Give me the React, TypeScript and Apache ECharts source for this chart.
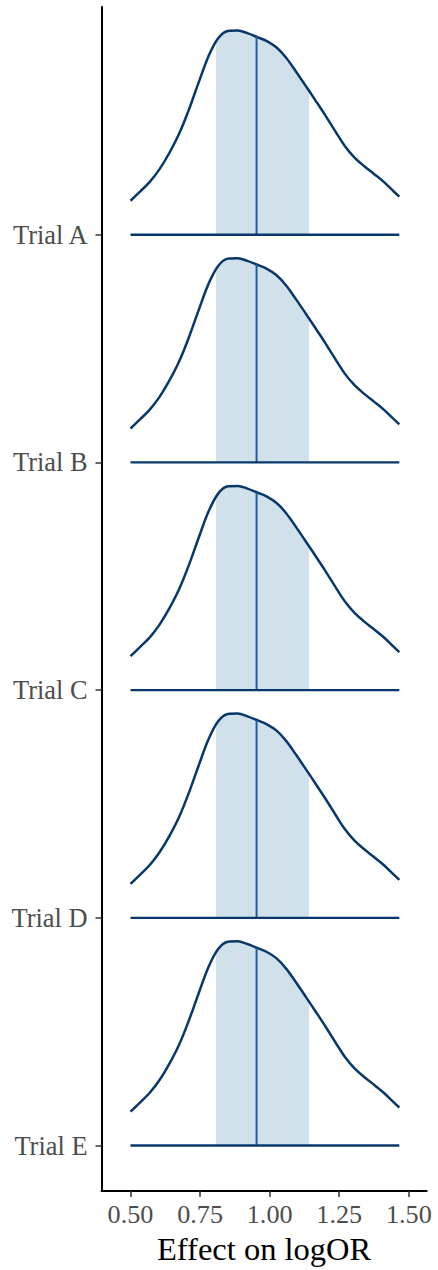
import React, { useEffect, useRef } from "react";
import * as echarts from "echarts";

const trials = ["Trial A", "Trial B", "Trial C", "Trial D", "Trial E"];
const xTicks = [0.5, 0.75, 1.0, 1.25, 1.5];
const densityX = [0.5, 0.535, 0.57, 0.605, 0.64, 0.675, 0.71, 0.745, 0.78, 0.815, 0.85, 0.885, 0.92, 0.955, 0.99, 1.025, 1.06, 1.095, 1.13, 1.165, 1.2, 1.235, 1.27, 1.305, 1.34, 1.375, 1.41, 1.445, 1.466];
const densityY = [0.149, 0.19, 0.233, 0.289, 0.36, 0.444, 0.55, 0.669, 0.783, 0.863, 0.895, 0.897, 0.885, 0.868, 0.85, 0.822, 0.776, 0.716, 0.653, 0.589, 0.524, 0.456, 0.39, 0.339, 0.301, 0.267, 0.232, 0.191, 0.167];
const intervalLow = 0.807;
const intervalHigh = 1.14;
const medianX = 0.953;
const medianHeight = 0.869;

const FONT = "'Liberation Serif', 'Times New Roman', serif";
const DARK = "#08386b";

export default function App() {
  const ref = useRef<HTMLDivElement>(null);
  useEffect(() => {
    if (!ref.current) return;
    const chart = echarts.init(ref.current, null, { renderer: "svg" });
    const n = trials.length;
    const yAxes: any[] = [
      {
        type: "value",
        min: 0.8,
        max: 6.0,
        axisLine: { show: true, onZero: false, lineStyle: { color: "#000", width: 2 } },
        axisTick: { show: true, length: 6, customValues: [1, 2, 3, 4, 5], lineStyle: { color: "#333", width: 1.5 } },
        axisLabel: {
          customValues: [1, 2, 3, 4, 5],
          formatter: (v: number) => trials[n - Math.round(v)],
          color: "#4d4d4d",
          fontFamily: FONT,
          fontSize: 26.4,
          margin: 14,
        },
        splitLine: { show: false },
      },
    ];
    const series: any[] = [];
    const visualMaps: any[] = [];
    trials.forEach((t, i) => {
      const b = n - i;
      yAxes.push({ type: "value", show: false, min: 0.8 - b, max: 6.0 - b, gridIndex: 0, axisLine: { onZero: false } });
      const yi = i + 1;
      visualMaps.push({
        type: "piecewise",
        show: false,
        dimension: 0,
        seriesIndex: series.length,
        pieces: [{ gte: intervalLow, lte: intervalHigh, color: "#d1e1ec" }],
        outOfRange: { color: "rgba(255,255,255,0)" },
      });
      series.push({
        name: t,
        type: "line",
        yAxisIndex: yi,
        data: densityX.map((x, j) => [x, densityY[j]]),
        smooth: 0.35,
        symbol: "none",
        lineStyle: { color: DARK, width: 2.5 },
        areaStyle: { opacity: 1 },
        z: 2,
      });
      series.push({
        type: "line",
        yAxisIndex: yi,
        data: [[medianX, 0], [medianX, medianHeight]],
        symbol: "none",
        lineStyle: { color: "#1d5f9d", width: 2 },
        z: 3,
      });
      series.push({
        type: "line",
        yAxisIndex: yi,
        data: [[densityX[0], 0], [densityX[densityX.length - 1], 0]],
        symbol: "none",
        lineStyle: { color: DARK, width: 2.4 },
        z: 4,
      });
    });
    chart.setOption({
      animation: false,
      backgroundColor: "#fff",
      grid: { left: 101.5, right: 11.3, top: 7, bottom: 73.3, containLabel: false },
      xAxis: {
        type: "value",
        min: 0.3958,
        max: 1.5643,
        name: "Effect on logOR",
        nameLocation: "middle",
        nameGap: 38,
        nameTextStyle: { color: "#000", fontFamily: FONT, fontSize: 32.5 },
        axisLine: { show: true, onZero: false, lineStyle: { color: "#000", width: 2 } },
        axisTick: { show: true, length: 6, customValues: xTicks, lineStyle: { color: "#333", width: 1.5 } },
        axisLabel: {
          customValues: xTicks,
          formatter: (v: number) => v.toFixed(2),
          color: "#4d4d4d",
          fontFamily: FONT,
          fontSize: 26.2,
          margin: 10,
        },
        splitLine: { show: false },
      },
      yAxis: yAxes,
      visualMap: visualMaps,
      series,
    });
    return () => chart.dispose();
  }, []);
  return <div ref={ref} style={{ position: "fixed", left: 0, top: 0, width: 438, height: 1270 }} />;
}
